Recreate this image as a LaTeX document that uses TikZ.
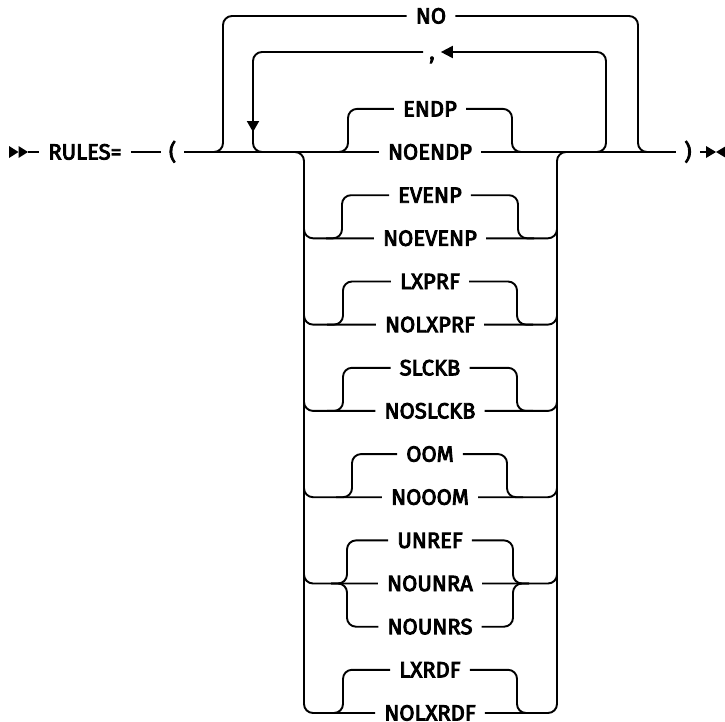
\documentclass[tikz,border=0pt]{standalone}
\usepackage{fontspec}
\newfontfamily\lblfont{Fira Sans}[FakeBold=4]
\usetikzlibrary{arrows.meta}
\tikzset{
  ln/.style={line width=1.9pt, rounded corners=9pt},
  vln/.style={line width=2.6pt},
  lbl/.style={font=\lblfont\fontsize{22}{24}\selectfont, inner xsep=9pt, inner ysep=0pt,
              text height=15pt, text depth=0pt},
  tri/.style={fill=black, draw=none},
}
\begin{document}
\begin{tikzpicture}[x=1pt,y=-1pt]
\useasboundingbox (0,0) rectangle (725,721);
\clip (0,0) rectangle (725,721);
% labels
\node[lbl] (rules) at (85,152) {RULES=};
\node[lbl, inner xsep=8pt] (lp) at (172.5,152) {(};
\node[lbl, inner xsep=8pt] (rp) at (688,152) {)};
\node[lbl] (no) at (431,16) {NO};
\node[lbl, inner xsep=6pt] (comma) at (432,52) {,};
\node[lbl] (endp) at (430,108.9) {ENDP};
\node[lbl] (noendp) at (430,152) {NOENDP};
\node[lbl] (evenp) at (430,195.2) {EVENP};
\node[lbl] (noevenp) at (430,238.3) {NOEVENP};
\node[lbl] (lxprf) at (430,281.5) {LXPRF};
\node[lbl] (nolxprf) at (430,324.6) {NOLXPRF};
\node[lbl] (slckb) at (430,367.8) {SLCKB};
\node[lbl] (noslckb) at (430,410.9) {NOSLCKB};
\node[lbl] (oom) at (430,454.1) {OOM};
\node[lbl] (nooom) at (430,497.2) {NOOOM};
\node[lbl] (unref) at (430,540.4) {UNREF};
\node[lbl] (nounra) at (430,583.5) {NOUNRA};
\node[lbl] (nounrs) at (430,626.7) {NOUNRS};
\node[lbl] (lxrdf) at (430,669.8) {LXRDF};
\node[lbl] (nolxrdf) at (430,713) {NOLXRDF};
% start and end markers
\coordinate (st) at (28,152);
\coordinate (en) at (706,152);
\fill[tri] (9,146) -- (18.5,152) -- (9,158) -- cycle;
\fill[tri] (18.5,146) -- (st) -- (18.5,158) -- cycle;
\fill[tri] (706,146) -- (716,152) -- (706,158) -- cycle;
\fill[tri] (726,146) -- (716,152) -- (726,158) -- cycle;
% main line
\draw[ln] (st) -- (rules.west);
\draw[ln] (rules.east) -- (lp.west);
\draw[ln] (lp.east) -- (noendp.west);
\draw[ln] (noendp.east) -- (rp.west);
\draw[ln] (rp.east) -- (en);
% NO bypass
\draw[ln] (205,152) -- (223,152) -- (223,16) -- (no.west);
\draw[ln] (no.east) -- (638,16) -- (638,152) -- (656,152);
% repeat loop with comma
\draw[ln, -{Triangle[length=12pt,width=12pt]}] (588,152) -- (606,152) -- (606,52) -- (comma.east);
\draw[ln, -{Triangle[length=11pt,width=12pt]}] (comma.west) -- (253,52) -- (253,132);
\draw[ln] (253,125) -- (253,152) -- (274,152);
% stack verticals
\draw[vln] (304,160) -- (304,705);
\draw[vln] (557,160) -- (557,705);
\draw[ln] (288,152) -- (304,152) -- (304,172);
\draw[ln] (557,172) -- (557,152) -- (573,152);
% stack rows
\draw[ln] (304,218) -- (304,238.3) -- (noevenp.west);
\draw[ln] (noevenp.east) -- (557,238.3) -- (557,218);
\draw[ln] (304,304) -- (304,324.6) -- (nolxprf.west);
\draw[ln] (nolxprf.east) -- (557,324.6) -- (557,304);
\draw[ln] (304,390) -- (304,410.9) -- (noslckb.west);
\draw[ln] (noslckb.east) -- (557,410.9) -- (557,390);
\draw[ln] (304,477) -- (304,497.2) -- (nooom.west);
\draw[ln] (nooom.east) -- (557,497.2) -- (557,477);
\draw[ln] (304,563) -- (304,583.5) -- (nounra.west);
\draw[ln] (nounra.east) -- (557,583.5) -- (557,563);
\draw[ln] (304,693) -- (304,713) -- (nolxrdf.west);
\draw[ln] (nolxrdf.east) -- (557,713) -- (557,693);
% choice branches
\draw[ln] (332,152) -- (348,152) -- (348,108.9) -- (endp.west);
\draw[ln] (endp.east) -- (512,108.9) -- (512,152) -- (528,152);
\draw[ln] (326,238.3) -- (342,238.3) -- (342,195.2) -- (evenp.west);
\draw[ln] (evenp.east) -- (518,195.2) -- (518,238.3) -- (534,238.3);
\draw[ln] (327,324.6) -- (343,324.6) -- (343,281.5) -- (lxprf.west);
\draw[ln] (lxprf.east) -- (517,281.5) -- (517,324.6) -- (533,324.6);
\draw[ln] (327,410.9) -- (343,410.9) -- (343,367.8) -- (slckb.west);
\draw[ln] (slckb.east) -- (517,367.8) -- (517,410.9) -- (533,410.9);
\draw[ln] (336,497.2) -- (352,497.2) -- (352,454.1) -- (oom.west);
\draw[ln] (oom.east) -- (507,454.1) -- (507,497.2) -- (523,497.2);
\draw[ln] (331,583.5) -- (347,583.5) -- (347,540.4) -- (unref.west);
\draw[ln] (331,583.5) -- (347,583.5) -- (347,626.7) -- (nounrs.west);
\draw[ln] (unref.east) -- (513,540.4) -- (513,583.5) -- (529,583.5);
\draw[ln] (nounrs.east) -- (513,626.7) -- (513,583.5) -- (529,583.5);
\draw[ln] (327,713) -- (343,713) -- (343,669.8) -- (lxrdf.west);
\draw[ln] (lxrdf.east) -- (517,669.8) -- (517,713) -- (533,713);
\end{tikzpicture}
\end{document}
